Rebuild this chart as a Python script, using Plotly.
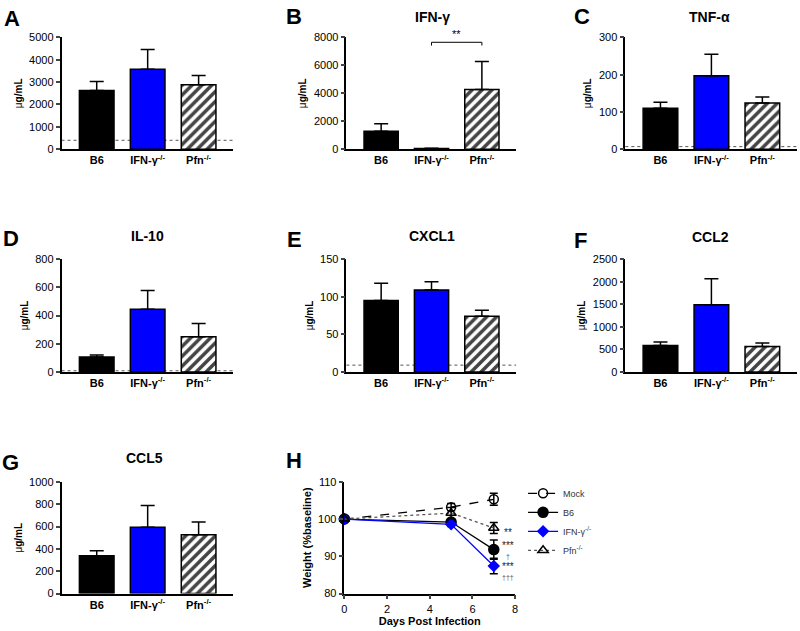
import plotly.graph_objects as go

# ---------------- data ----------------
groups = ["B6", "IFN-γ<sup>-/-</sup>", "Pfn<sup>-/-</sup>"]
panel_letters = ["A", "B", "C", "D", "E", "F", "G", "H"]
panel_titles = ["", "IFN-γ", "TNF-α", "IL-10", "CXCL1", "CCL2", "CCL5"]

a_mean = [2630, 3580, 2880]; a_err = [400, 880, 420]
b_mean = [1280, 50, 4280];   b_err = [540, 20, 1990]
c_mean = [110, 197, 124];    c_err = [16, 58, 16]
d_mean = [105, 445, 250];    d_err = [14, 133, 93]
e_mean = [95, 109, 74];      e_err = [23, 11, 8]
f_mean = [583, 1487, 561];   f_err = [80, 576, 80]
g_mean = [339, 594, 526];    g_err = [44, 195, 114]

bar_means = [a_mean, b_mean, c_mean, d_mean, e_mean, f_mean, g_mean]
bar_errs = [a_err, b_err, c_err, d_err, e_err, f_err, g_err]
y_max = [5000, 8000, 300, 800, 150, 2500, 1000]
y_dtick = [1000, 2000, 100, 200, 50, 500, 200]
detection_limit = [400, None, 7, 8, 9, None, None]

days = [0, 5, 7]
weight_series = ["Mock", "B6", "IFN-γ<sup>-/-</sup>", "Pfn<sup>-/-</sup>"]
mock_w = [100, 103.2, 105.3]; mock_e = [0.3, 1.0, 1.6]
b6_w = [100, 99.2, 91.8];     b6_e = [0.3, 0.8, 2.6]
ifn_w = [100, 98.6, 87.4];    ifn_e = [0.3, 0.6, 2.1]
pfn_w = [100, 101.6, 97.6];   pfn_e = [0.3, 1.5, 1.5]
h_sig_text = ["**", "***", "†", "***", "†††"]
h_sig_y = [96.5, 93.0, 90.08, 87.16, 84.24]

# ---------------- layout helpers ----------------
W, H = 800, 631
FONT = "Liberation Sans, Arial, sans-serif"
col_px = [(59, 232), (346, 517), (627, 800)]
row_px = [(32, 146), (258, 373), (485, 599)]
positions = [(0, 0), (0, 1), (0, 2), (1, 0), (1, 1), (1, 2), (2, 0)]

def xd(p):
    return p / W

def yd(p):
    return 1 - p / H

fig = go.Figure()
layout = dict(
    width=W, height=H, margin=dict(l=0, r=0, t=0, b=0),
    paper_bgcolor="white", plot_bgcolor="white",
    font=dict(family=FONT, color="black", size=11),
    showlegend=True, annotations=[], shapes=[],
)

bar_colors = ["black", "#0000ff", "white"]

for i, (r, c) in enumerate(positions):
    k = i + 1
    xn = "x" if k == 1 else f"x{k}"
    yn = "y" if k == 1 else f"y{k}"
    xa = "xaxis" if k == 1 else f"xaxis{k}"
    ya = "yaxis" if k == 1 else f"yaxis{k}"
    fig.add_trace(go.Bar(
        x=[0, 1, 2], y=bar_means[i], width=0.68,
        marker=dict(color=bar_colors,
                    line=dict(color="black", width=1.5),
                    pattern=dict(shape=["", "", "/"], fgcolor="black",
                                 fgopacity=1, size=7, solidity=0.5)),
        error_y=dict(type="data", array=bar_errs[i], arrayminus=[0, 0, 0],
                     symmetric=False, color="black", thickness=1.5, width=7),
        xaxis=xn, yaxis=yn, showlegend=False,
    ))
    x0, x1 = col_px[c]
    y0, y1 = row_px[r]
    layout[xa] = dict(
        domain=[xd(x0), xd(x1)], anchor=yn, range=[-0.69, 2.68],
        tickvals=[0, 1, 2], ticktext=[f"<b>{g}</b>" for g in groups],
        showline=True, linecolor="black", linewidth=1.5, ticks="",
        showgrid=False, zeroline=False, tickfont=dict(size=11),
    )
    layout[ya] = dict(
        domain=[yd(y1), yd(y0)], anchor=xn, range=[0, y_max[i]],
        dtick=y_dtick[i], showline=True, linecolor="black", linewidth=1.5,
        ticks="outside", ticklen=4, tickwidth=1.5, showgrid=False,
        zeroline=False, tickfont=dict(size=11),
        title=dict(text="μ<b>g/mL</b>", font=dict(size=10), standoff=5),
    )
    if detection_limit[i] is not None:
        layout["shapes"].append(dict(
            type="line", xref=f"{xn} domain", yref=yn, x0=0, x1=1,
            y0=detection_limit[i], y1=detection_limit[i],
            line=dict(color="#555555", width=1, dash="dot"), layer="below"))

# significance bracket in panel B
layout["shapes"].append(dict(
    type="path", xref="x2", yref="y2",
    path="M 1,7420 L 1,7650 L 2,7650 L 2,7420",
    line=dict(color="black", width=1)))
layout["annotations"].append(dict(
    x=1.5, y=7650, xref="x2", yref="y2", text="**", showarrow=False,
    xanchor="center", yanchor="bottom", font=dict(size=11)))

# ---------------- panel H ----------------
hx, hy = "x8", "y8"
styles = [
    dict(w=mock_w, e=mock_e, color="black", dash="dash",
         sym="circle-open", size=9, lw=1.3),
    dict(w=b6_w, e=b6_e, color="black", dash="solid",
         sym="circle", size=10, lw=1.3),
    dict(w=ifn_w, e=ifn_e, color="#0000ff", dash="solid",
         sym="diamond", size=8, lw=1.3),
    dict(w=pfn_w, e=pfn_e, color="#555555", dash="dot",
         sym="triangle-up-open", size=9, lw=1.3),
]
for name, s in zip(weight_series, styles):
    mcol = "#0000ff" if s["color"] == "#0000ff" else "black"
    fig.add_trace(go.Scatter(
        x=days, y=s["w"], name=name, mode="lines+markers",
        line=dict(color=s["color"], dash=s["dash"], width=s["lw"]),
        marker=dict(symbol=s["sym"], size=s["size"], color=mcol,
                    line=dict(color=mcol, width=1.5)),
        error_y=dict(type="data", array=s["e"], color="black",
                     thickness=1.5, width=4),
        xaxis=hx, yaxis=hy, cliponaxis=False,
    ))

layout["xaxis8"] = dict(
    domain=[xd(344), xd(516)], anchor=hy, range=[0, 8], dtick=2,
    showline=True, linecolor="black", linewidth=1.5, ticks="outside",
    ticklen=4, tickwidth=1.5, showgrid=False, zeroline=False,
    tickfont=dict(size=11),
    title=dict(text="<b>Days Post Infection</b>", font=dict(size=11), standoff=4),
)
layout["yaxis8"] = dict(
    domain=[yd(599), yd(485)], anchor=hx, range=[80, 110], dtick=10,
    showline=True, linecolor="black", linewidth=1.5, ticks="outside",
    ticklen=4, tickwidth=1.5, showgrid=False, zeroline=False,
    tickfont=dict(size=11),
    title=dict(text="<b>Weight (%baseline)</b>", font=dict(size=11), standoff=4),
)
for t, yv in zip(h_sig_text, h_sig_y):
    is_dag = "†" in t
    layout["annotations"].append(dict(
        x=7.68, y=yv, xref=hx, yref=hy, text=t,
        xanchor="center", yanchor="middle", borderpad=0,
        showarrow=False, font=dict(size=7 if is_dag else 10,
                                   color="#555555" if is_dag else "#222222")))

layout["legend"] = dict(
    x=xd(524), y=yd(482), xanchor="left", yanchor="top",
    font=dict(size=9, color="#333333"), bgcolor="rgba(0,0,0,0)",
    tracegroupgap=0, itemwidth=30,
)

# ---------------- titles and panel letters ----------------
title_px = [None, (433, 11), (712, 11), (146, 234), (432, 234), (713, 235), (143, 461)]
for t, p in zip(panel_titles, title_px):
    if t and p:
        layout["annotations"].append(dict(
            x=xd(p[0]), y=yd(p[1]), xref="paper", yref="paper",
            xanchor="center", yanchor="middle",
            text=f"<b>{t}</b>", showarrow=False, font=dict(size=14)))

letter_px = [(9, 13), (293, 11), (583, 11), (8, 237), (294, 238), (582, 239), (8, 465), (293, 463)]
for L, p in zip(panel_letters, letter_px):
    layout["annotations"].append(dict(
        x=xd(p[0]), y=yd(p[1]), xref="paper", yref="paper",
        xanchor="center", yanchor="middle",
        text=f"<b>{L}</b>", showarrow=False, font=dict(size=22)))

fig.update_layout(**layout)
fig.write_html("out.html", config={"displayModeBar": False},
               post_script="document.body.style.margin='0';")
